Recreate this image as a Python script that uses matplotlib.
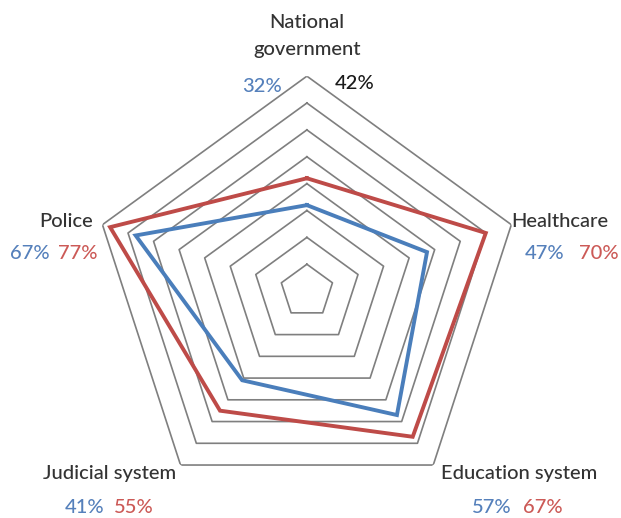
import numpy as np
import matplotlib.pyplot as plt

categories = ["National\ngovernment", "Healthcare", "Education system",
              "Judicial system", "Police"]
blue_vals = [32, 47, 57, 41, 67]
red_vals = [42, 70, 67, 55, 77]
grid_levels = [10, 20, 30, 40, 50, 60, 70, 80]

# label placement relative to the outer vertex of each spoke (pixels)
name_offsets = [(0, 40), (48, 3), (86, -8), (-71, -8), (-36, 3)]
blue_offsets = [(-45, -10), (33, -29), (59, -42), (-96, -42), (-73, -29)]
red_offsets = [(48, -7), (87, -29), (110, -42), (-47, -42), (-25, -29)]

BLUE = "#4A7EBB"
RED = "#BE4B48"

plt.rcParams['font.family'] = ['Lato', 'DejaVu Sans']

fig = plt.figure(figsize=(6.21, 5.18), dpi=100)
ax = fig.add_axes([0.148, 0.023, 0.6924, 0.830], projection="polar")
ax.set_theta_offset(np.pi / 2)
ax.set_theta_direction(-1)
ax.set_ylim(0, 80)
ax.grid(False)
ax.set_xticks([])
ax.set_yticks([])
ax.spines["polar"].set_visible(False)

n = len(categories)
theta = np.linspace(0, 2 * np.pi, n, endpoint=False)
theta_c = np.append(theta, theta[0])

for lvl in grid_levels:
    ax.plot(theta_c, [lvl] * (n + 1), color="#7f7f7f", lw=1.2, zorder=1)

ax.plot(theta_c, red_vals + red_vals[:1], color=RED, lw=2.8, zorder=3,
        solid_joinstyle="miter")
ax.plot(theta_c, blue_vals + blue_vals[:1], color=BLUE, lw=2.8, zorder=4,
        solid_joinstyle="miter")

fs = 14.5
for i, name in enumerate(categories):
    t = theta[i]
    ax.annotate(name, (t, 80), xytext=name_offsets[i], textcoords="offset pixels",
                ha="center", va="center", fontsize=fs, color="#333333",
                fontweight="medium", linespacing=1.7, annotation_clip=False)
    ax.annotate(f"{blue_vals[i]}%", (t, 80), xytext=blue_offsets[i],
                textcoords="offset pixels", ha="center", va="center",
                fontsize=fs, color="#5580BB", fontweight="medium",
                annotation_clip=False)
    ax.annotate(f"{red_vals[i]}%", (t, 80), xytext=red_offsets[i],
                textcoords="offset pixels", ha="center", va="center",
                fontsize=fs, color="#1a1a1a" if i == 0 else "#CC5A57",
                fontweight="medium", annotation_clip=False)

fig.savefig("out.png", dpi=100)
